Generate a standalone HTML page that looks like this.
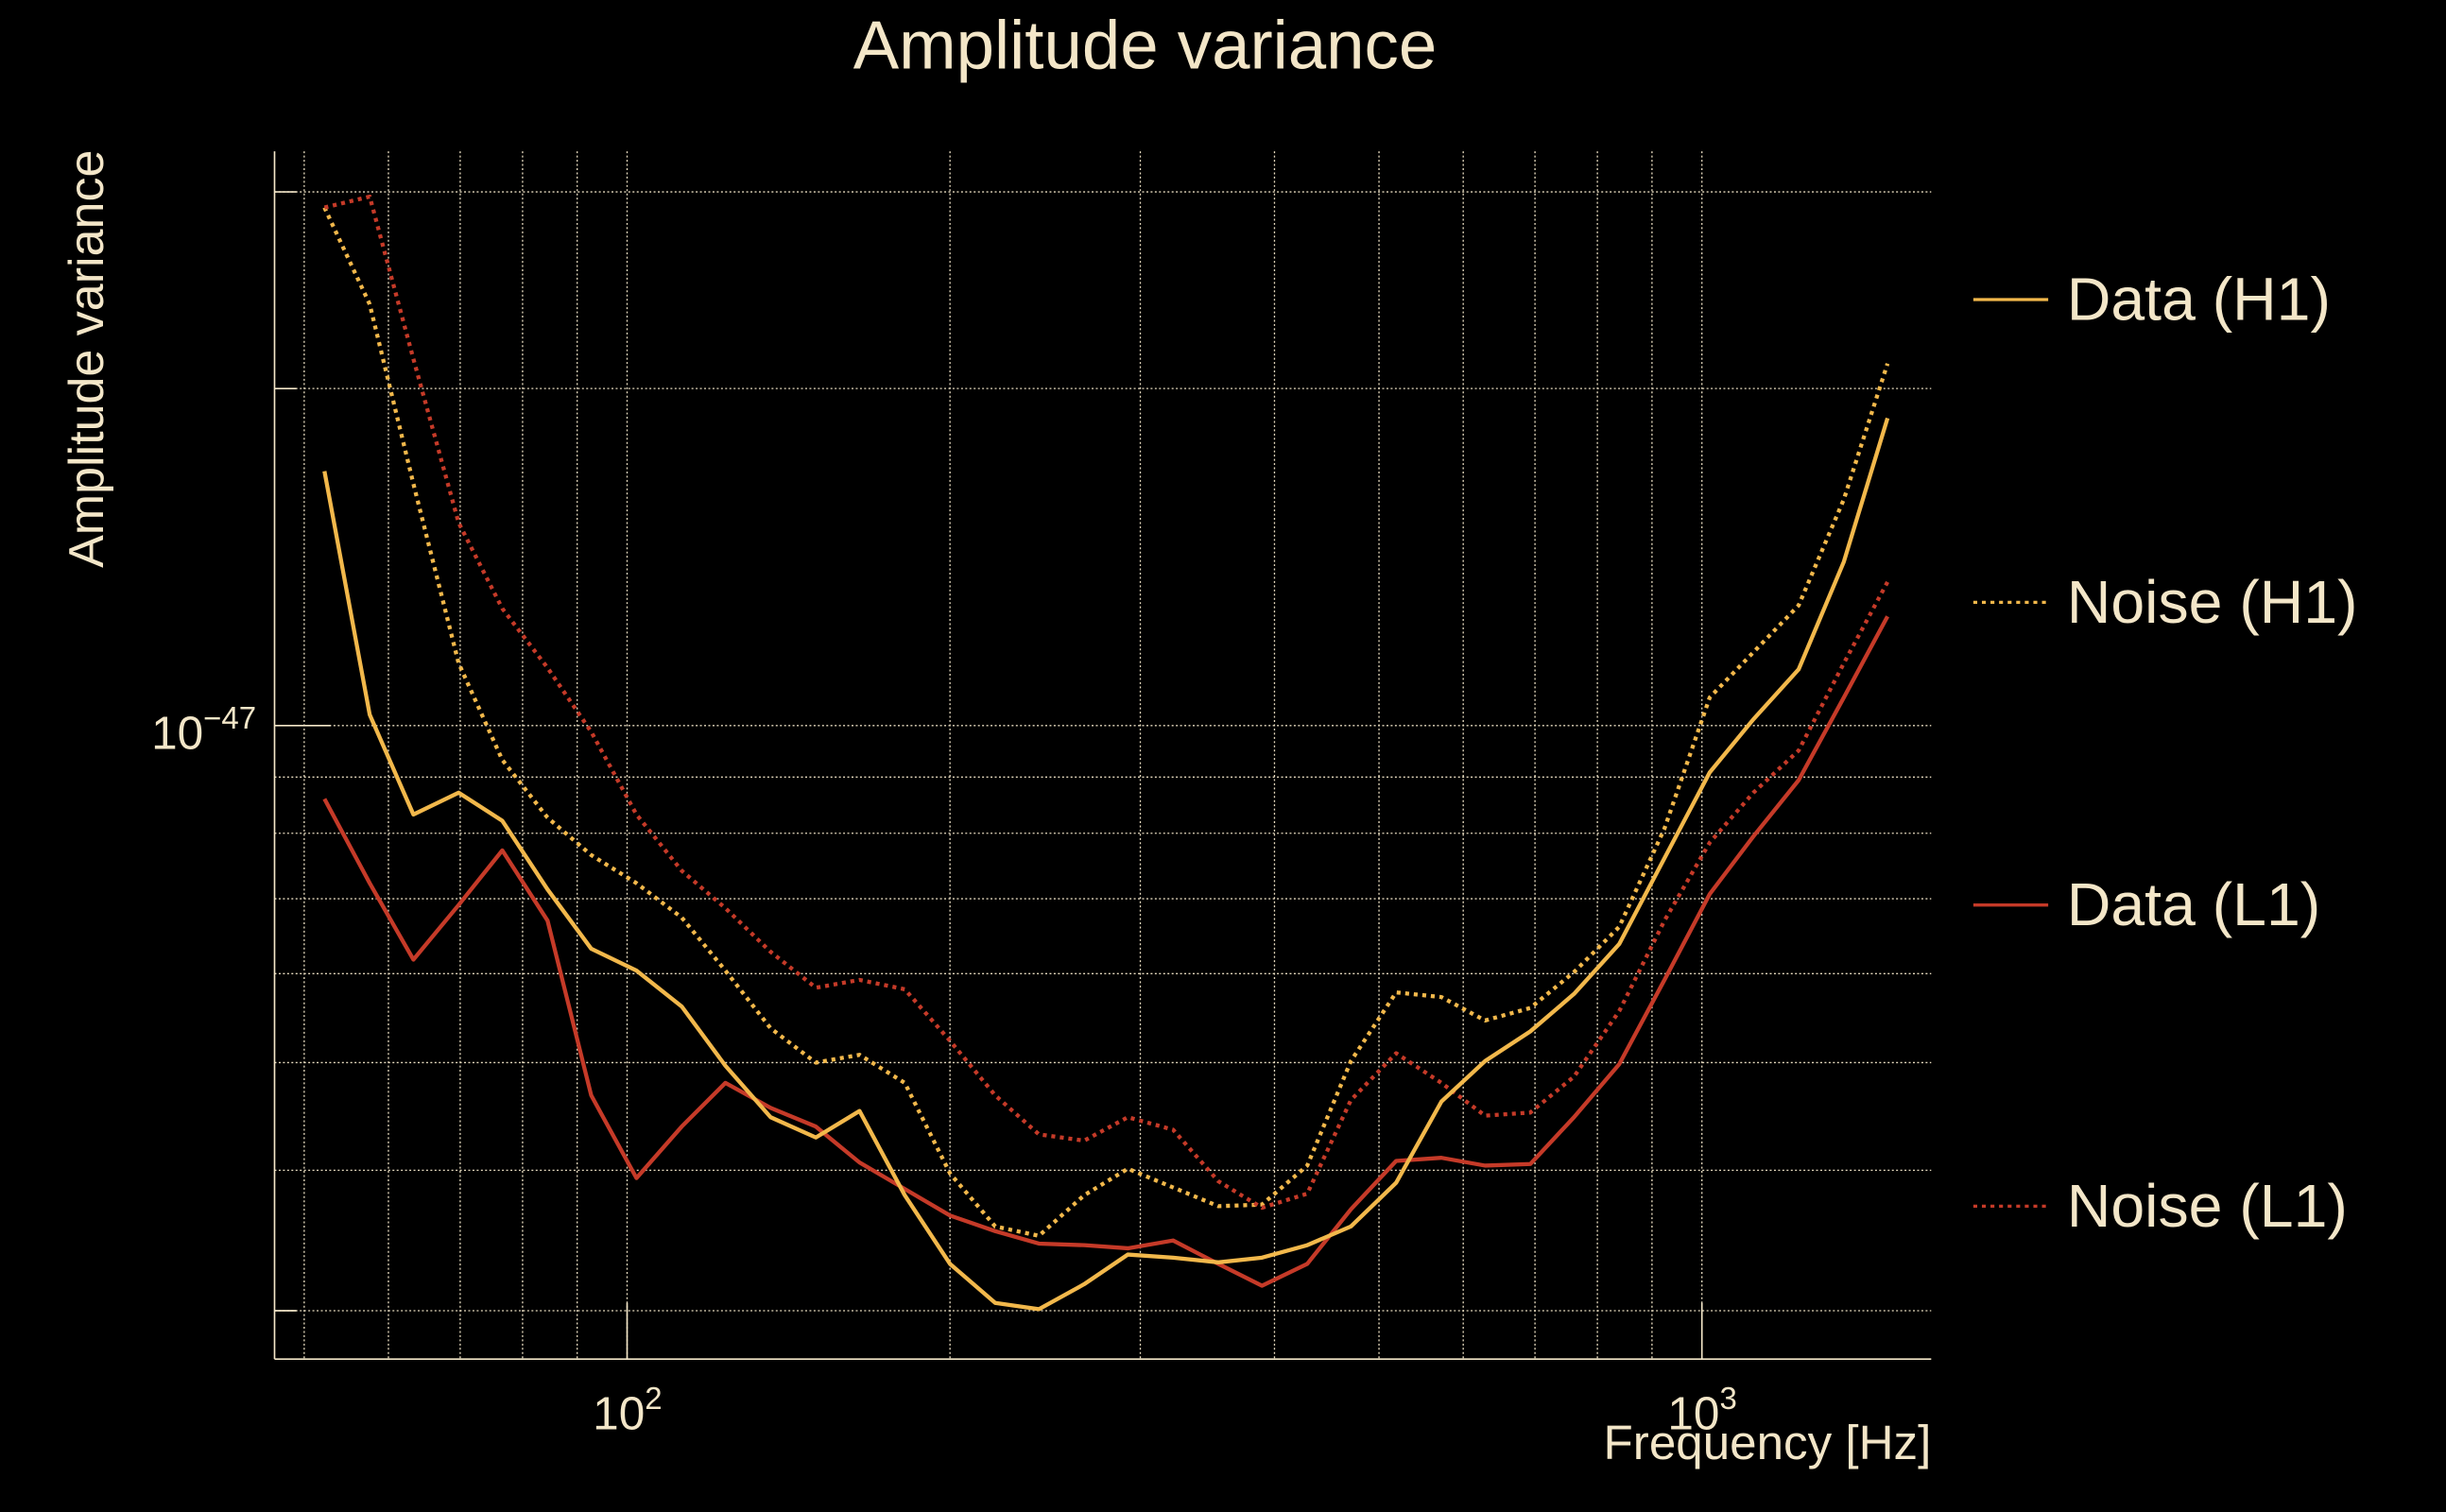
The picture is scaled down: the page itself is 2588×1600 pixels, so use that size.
<!DOCTYPE html>
<html><head><meta charset="utf-8"><style>
html,body{margin:0;padding:0;background:#000;}
svg{display:block;}
text{font-family:"Liberation Sans",sans-serif;fill:#f3e6c8;}
</style></head><body>
<svg width="2588" height="1600" viewBox="0 0 1568 969" preserveAspectRatio="none" xmlns="http://www.w3.org/2000/svg">
<rect width="1568" height="969" fill="#000"/>
<g stroke="#e8dcc0" stroke-width="0.8" stroke-dasharray="1.2,1.5" fill="none">
<line x1="195" y1="97" x2="195" y2="871"/><line x1="249" y1="97" x2="249" y2="871"/>
<line x1="295" y1="97" x2="295" y2="871"/><line x1="335" y1="97" x2="335" y2="871"/>
<line x1="370" y1="97" x2="370" y2="871"/><line x1="402" y1="97" x2="402" y2="871"/>
<line x1="609" y1="97" x2="609" y2="871"/><line x1="731" y1="97" x2="731" y2="871"/>
<line x1="817" y1="97" x2="817" y2="871"/><line x1="884" y1="97" x2="884" y2="871"/>
<line x1="938" y1="97" x2="938" y2="871"/><line x1="984" y1="97" x2="984" y2="871"/>
<line x1="1024" y1="97" x2="1024" y2="871"/><line x1="1059" y1="97" x2="1059" y2="871"/>
<line x1="1091" y1="97" x2="1091" y2="871"/>
<line x1="176" y1="123" x2="1238" y2="123"/><line x1="176" y1="249" x2="1238" y2="249"/>
<line x1="176" y1="465" x2="1238" y2="465"/><line x1="176" y1="498" x2="1238" y2="498"/>
<line x1="176" y1="534" x2="1238" y2="534"/><line x1="176" y1="576" x2="1238" y2="576"/>
<line x1="176" y1="624" x2="1238" y2="624"/><line x1="176" y1="681" x2="1238" y2="681"/>
<line x1="176" y1="750" x2="1238" y2="750"/><line x1="176" y1="840" x2="1238" y2="840"/>
</g>
<g stroke="#f3e6c8" stroke-width="1" fill="none">
<line x1="176" y1="97" x2="176" y2="871"/><line x1="176" y1="871" x2="1238" y2="871"/>
<line x1="176" y1="465" x2="212" y2="465"/><line x1="176" y1="123" x2="190" y2="123"/>
<line x1="176" y1="249" x2="190" y2="249"/><line x1="176" y1="840" x2="190" y2="840"/>
<line x1="402" y1="871" x2="402" y2="835"/><line x1="1091" y1="871" x2="1091" y2="835"/>
</g>
<g fill="none" stroke-width="2.6" stroke-linejoin="round">
<polyline stroke="#f2b84b" stroke-dasharray="2.5,3" points="208,133 237,195 265,310 294,425 322,487 351,524 379,548 408,566 437,588 465,622 494,659 523,681 551,676 580,694 609,752 638,786 666,792 695,766 723,749 752,761 781,773 809,772 838,747 866,680 895,636 924,639 952,654 981,646 1009,623 1038,594 1067,531 1096,447 1124,418 1153,388 1182,320 1210,233"/>
<polyline stroke="#c53a28" stroke-dasharray="2.5,3" points="208,133 237,126 265,230 294,335 322,390 351,428 379,469 408,522 437,558 465,582 494,610 523,633 551,628 580,634 609,667 638,702 666,727 695,731 723,716 752,724 781,757 809,774 838,765 866,705 895,675 924,694 952,715 981,713 1009,690 1038,648 1067,590 1096,540 1124,508 1153,481 1182,425 1210,373"/>
<polyline stroke="#c53a28" points="208,512 237,566 265,615 294,580 322,545 351,590 379,702 408,755 437,722 465,694 494,710 523,722 551,745 580,762 609,779 638,789 666,797 695,798 723,800 752,795 781,810 809,824 838,810 866,775 895,744 924,742 952,747 981,746 1009,716 1038,682 1067,628 1096,573 1124,536 1153,500 1182,447 1210,395"/>
<polyline stroke="#f2b84b" points="208,302 237,458 265,522 294,508 322,526 351,570 379,608 408,622 437,645 465,683 494,716 523,729 551,712 580,766 609,810 638,835 666,839 695,823 723,804 752,806 781,809 809,806 838,798 866,786 895,758 924,706 952,680 981,661 1009,637 1038,605 1067,550 1096,495 1124,461 1153,429 1182,360 1210,268"/>
</g>
<text x="734" y="44" font-size="44" text-anchor="middle">Amplitude variance</text>
<text transform="translate(66,230) rotate(-90)" font-size="31.5" text-anchor="middle">Amplitude variance</text>
<text x="97" y="480" font-size="30">10<tspan font-size="20" dy="-13">−47</tspan></text>
<text x="380" y="916" font-size="30">10<tspan font-size="20" dy="-13">2</tspan></text>
<text x="1069" y="916" font-size="30">10<tspan font-size="20" dy="-13">3</tspan></text>
<text x="1238" y="935" font-size="31" text-anchor="end">Frequency [Hz]</text>
<g stroke-width="2">
<line x1="1265" y1="192" x2="1313" y2="192" stroke="#f2b84b"/>
<line x1="1265" y1="386" x2="1313" y2="386" stroke="#f2b84b" stroke-dasharray="2.5,3"/>
<line x1="1265" y1="580" x2="1313" y2="580" stroke="#c53a28"/>
<line x1="1265" y1="773" x2="1313" y2="773" stroke="#c53a28" stroke-dasharray="2.5,3"/>
</g>
<g font-size="39">
<text x="1325" y="205">Data (H1)</text>
<text x="1325" y="399">Noise (H1)</text>
<text x="1325" y="593">Data (L1)</text>
<text x="1325" y="786">Noise (L1)</text>
</g>
</svg>
</body></html>
